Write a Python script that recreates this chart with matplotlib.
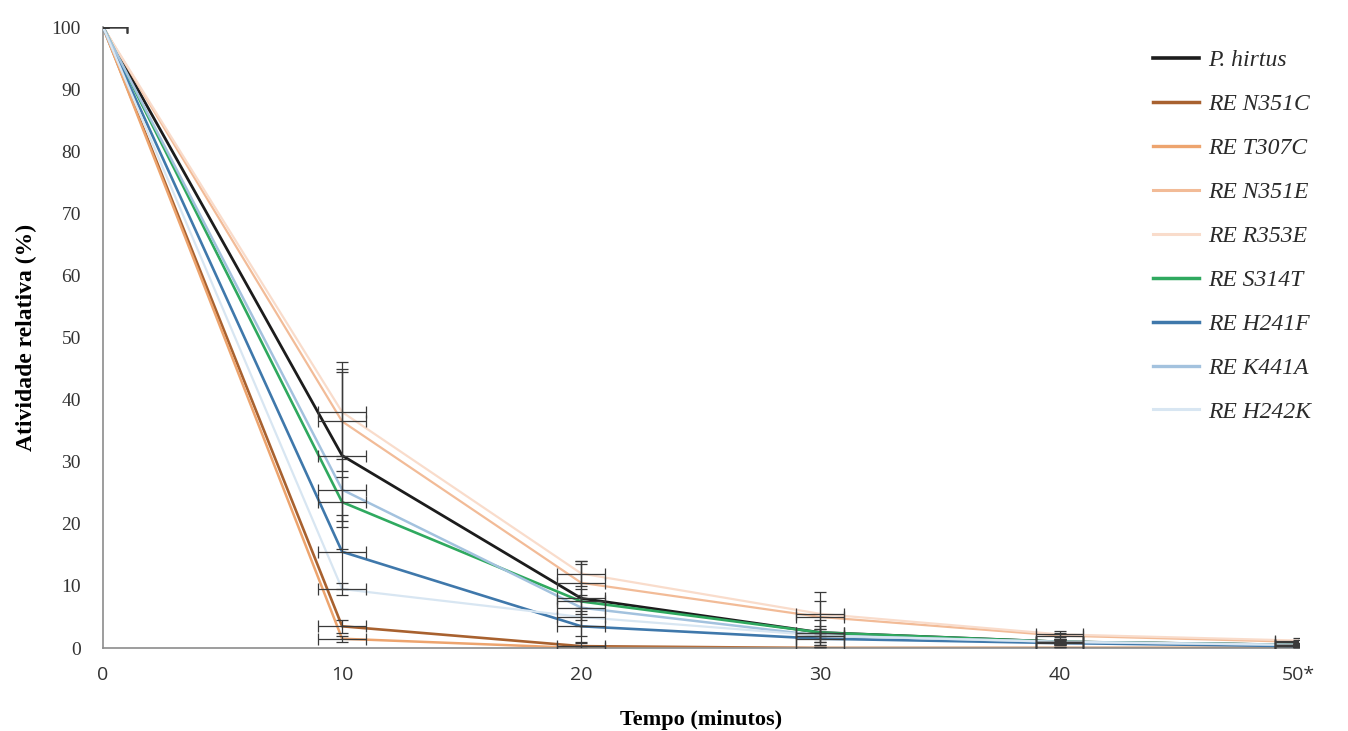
import numpy as np
import matplotlib.pyplot as plt
from matplotlib.lines import Line2D

# --- data ---
tempo = [0, 10, 20, 30, 40, 50]
tick_labels = ["0", "10", "20", "30", "40", "50*"]

series_names = ["P. hirtus", "RE N351C", "RE T307C", "RE N351E", "RE R353E",
                "RE S314T", "RE H241F", "RE K441A", "RE H242K"]
series_colors = ["#1c1c1c", "#a8612f", "#eda46e", "#f2bb97", "#f9dccb",
                 "#2fa95f", "#3f78ab", "#a3c2de", "#d8e6f2"]
series_lw = [2.0, 1.9, 1.8, 1.6, 1.6, 1.9, 1.9, 1.8, 1.6]

p_hirtus = [100, 31.0, 8.0, 2.5, 1.0, 0.5]
re_n351c = [100, 3.5, 0.3, 0.0, 0.0, 0.0]
re_t307c = [100, 1.5, 0.0, 0.0, 0.0, 0.0]
re_n351e = [100, 36.5, 10.5, 5.0, 2.0, 1.0]
re_r353e = [100, 38.0, 12.0, 5.5, 2.2, 1.2]
re_s314t = [100, 23.5, 7.5, 2.5, 1.0, 0.5]
re_h241f = [100, 15.5, 3.5, 1.5, 0.8, 0.3]
re_k441a = [100, 25.5, 6.5, 2.0, 1.0, 0.5]
re_h242k = [100, 9.5, 5.0, 2.0, 1.0, 0.5]

err_p_hirtus = [0, 15.0, 6.0, 2.0, 0.5, 0.3]
err_re_n351c = [0, 1.0, 0.5, 0.2, 0.1, 0.1]
err_re_t307c = [0, 0.5, 0.3, 0.1, 0.1, 0.1]
err_re_n351e = [0, 8.0, 3.0, 2.5, 0.5, 0.3]
err_re_r353e = [0, 7.0, 2.0, 3.5, 0.5, 0.4]
err_re_s314t = [0, 4.0, 2.0, 1.0, 0.4, 0.2]
err_re_h241f = [0, 6.0, 2.5, 1.0, 0.3, 0.2]
err_re_k441a = [0, 5.0, 2.0, 1.0, 0.3, 0.2]
err_re_h242k = [0, 1.0, 1.5, 1.0, 0.3, 0.2]
x_err = [1, 1, 1, 1, 1, 1]

values = [p_hirtus, re_n351c, re_t307c, re_n351e, re_r353e,
          re_s314t, re_h241f, re_k441a, re_h242k]
errors = [err_p_hirtus, err_re_n351c, err_re_t307c, err_re_n351e, err_re_r353e,
          err_re_s314t, err_re_h241f, err_re_k441a, err_re_h242k]

serif = ["Liberation Serif", "DejaVu Serif"]

fig = plt.figure(figsize=(13.48, 7.31), dpi=100)
ax = fig.add_axes([0.0764, 0.1135, 0.887, 0.8495])

# lines, lightest drawn first so darker ones sit on top
order = [4, 8, 3, 7, 2, 1, 6, 5, 0]
for i in order:
    ax.plot(tempo, values[i], color=series_colors[i], lw=series_lw[i], zorder=2 + i * 0.1)

# Excel-style error bars (x and y), dark grey
for i in range(len(values)):
    ax.errorbar(tempo, values[i], yerr=errors[i], xerr=x_err, fmt="none",
                ecolor="#3a3a3a", elinewidth=0.9, capsize=4, capthick=0.9,
                zorder=4, clip_on=True)

ax.set_xlim(0, 50)
ax.set_ylim(0, 100)
ax.set_xticks(tempo)
ax.set_xticklabels(tick_labels)
ax.set_yticks(np.arange(0, 101, 10))
ax.tick_params(length=0, labelsize=14, colors="#333333")
ax.tick_params(axis="y", pad=16)
ax.tick_params(axis="x", pad=13)
for lab in ax.get_yticklabels():
    lab.set_fontfamily(serif)
for lab in ax.get_xticklabels():
    lab.set_fontfamily(["Open Sans", "DejaVu Sans"])

for s in ["top", "right"]:
    ax.spines[s].set_visible(False)
for s in ["left", "bottom"]:
    ax.spines[s].set_color("#8c8c8c")
    ax.spines[s].set_linewidth(1.2)

ax.set_xlabel("Tempo (minutos)", fontfamily=serif, fontweight="bold",
              fontsize=16, labelpad=19)
ax.set_ylabel("Atividade relativa (%)", fontfamily=serif, fontweight="bold",
              fontsize=17, labelpad=10)

handles = [Line2D([0], [0], color=series_colors[i], lw=series_lw[i] + 0.6)
           for i in range(len(series_names))]
leg = ax.legend(handles, series_names, loc="upper left",
                bbox_to_anchor=(0.860, 0.998), frameon=False,
                prop={"family": serif, "style": "italic", "size": 17},
                handlelength=1.95, handletextpad=0.4, labelspacing=0.95)
for t in leg.get_texts():
    t.set_color("#2a2a2a")

fig.savefig("out.png", dpi=100)
